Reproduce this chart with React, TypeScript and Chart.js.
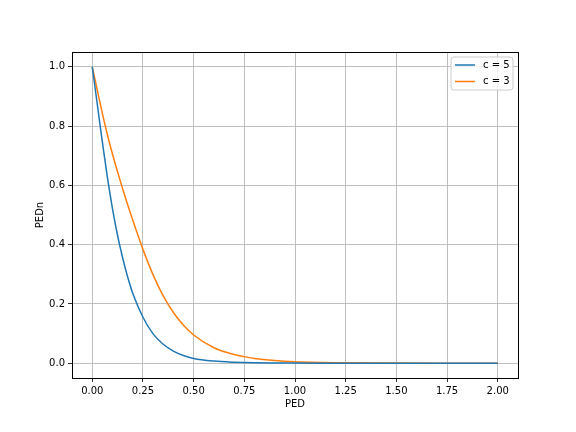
import React, { useEffect, useRef } from "react";
import { Chart, registerables } from "chart.js";

Chart.register(...registerables);

const xValues = [0, 0.025, 0.05, 0.075, 0.1, 0.125, 0.15, 0.175, 0.2, 0.25, 0.3, 0.35, 0.4, 0.45, 0.5, 0.6, 0.7, 0.75, 0.8, 0.9, 1.0, 1.25, 1.5, 1.75, 2.0];
const c5Values = [1, 0.872, 0.745, 0.625, 0.52, 0.43, 0.355, 0.29, 0.235, 0.155, 0.099, 0.064, 0.041, 0.026, 0.016, 0.007, 0.003, 0.002, 0.0013, 0.0006, 0.0003, 0.0001, 0, 0, 0];
const c3Values = [1, 0.92, 0.842, 0.77, 0.705, 0.645, 0.588, 0.534, 0.482, 0.384, 0.298, 0.227, 0.171, 0.128, 0.095, 0.052, 0.029, 0.022, 0.016, 0.009, 0.005, 0.0012, 0.0003, 0.0001, 0];
const seriesLabels = ["c = 5", "c = 3"];
const seriesColors = ["#1f77b4", "#ff7f0e"];
const xTicks = [0, 0.25, 0.5, 0.75, 1.0, 1.25, 1.5, 1.75, 2.0];
const yTicks = [0, 0.2, 0.4, 0.6, 0.8, 1.0];
const xTitle = "PED";
const yTitle = "PEDn";

const FONT = "'DejaVu Sans', sans-serif";

const framePlugin = {
  id: "frameAndLegend",
  afterDatasetsDraw(chart: any) {
    const { ctx, chartArea } = chart;
    ctx.save();
    ctx.strokeStyle = "#000";
    ctx.lineWidth = 1;
    ctx.strokeRect(
      Math.round(chartArea.left) + 0.5,
      Math.round(chartArea.top) + 0.5,
      Math.round(chartArea.right - chartArea.left),
      Math.round(chartArea.bottom - chartArea.top)
    );
    // legend
    const bx = 451, by = 57, bw = 62, bh = 33, r = 3;
    ctx.beginPath();
    ctx.moveTo(bx + r, by);
    ctx.lineTo(bx + bw - r, by);
    ctx.quadraticCurveTo(bx + bw, by, bx + bw, by + r);
    ctx.lineTo(bx + bw, by + bh - r);
    ctx.quadraticCurveTo(bx + bw, by + bh, bx + bw - r, by + bh);
    ctx.lineTo(bx + r, by + bh);
    ctx.quadraticCurveTo(bx, by + bh, bx, by + bh - r);
    ctx.lineTo(bx, by + r);
    ctx.quadraticCurveTo(bx, by, bx + r, by);
    ctx.closePath();
    ctx.fillStyle = "rgba(255,255,255,0.8)";
    ctx.fill();
    ctx.strokeStyle = "#cccccc";
    ctx.lineWidth = 1;
    ctx.stroke();
    ctx.font = `10px ${FONT}`;
    ctx.textBaseline = "middle";
    ctx.textAlign = "left";
    chart.data.datasets.forEach((ds: any, i: number) => {
      const y = 65 + i * 16.5;
      ctx.strokeStyle = ds.borderColor;
      ctx.lineWidth = 1.5;
      ctx.beginPath();
      ctx.moveTo(455, y);
      ctx.lineTo(475, y);
      ctx.stroke();
      ctx.fillStyle = "#000";
      ctx.fillText(ds.label, 483, y);
    });
    ctx.restore();
  },
};

export default function App() {
  const ref = useRef<HTMLCanvasElement | null>(null);
  useEffect(() => {
    if (!ref.current) return;
    const mk = (vals: number[]) => xValues.map((x, i) => ({ x, y: vals[i] }));
    const chart = new Chart(ref.current, {
      type: "line",
      data: {
        datasets: [
          { label: seriesLabels[0], data: mk(c5Values), borderColor: seriesColors[0], borderWidth: 1.5, pointRadius: 0, cubicInterpolationMode: "monotone", fill: false },
          { label: seriesLabels[1], data: mk(c3Values), borderColor: seriesColors[1], borderWidth: 1.5, pointRadius: 0, cubicInterpolationMode: "monotone", fill: false },
        ],
      },
      options: {
        responsive: false,
        animation: false,
        layout: { padding: { left: 0, top: 52, right: 58, bottom: 0 } },
        plugins: { legend: { display: false }, tooltip: { enabled: false } },
        scales: {
          x: {
            type: "linear",
            min: -0.1,
            max: 2.1,
            afterBuildTicks: (s: any) => { s.ticks = xTicks.map((v) => ({ value: v })); },
            afterFit: (s: any) => { s.height = 54; },
            ticks: { callback: (v: any) => Number(v).toFixed(2), color: "#000", font: { family: FONT, size: 10 }, padding: 3, maxRotation: 0, autoSkip: false },
            grid: { color: "#b0b0b0", lineWidth: 0.8, tickColor: "#000", tickLength: 4, tickWidth: 0.8 },
            border: { display: false },
            title: { display: true, text: xTitle, color: "#000", font: { family: FONT, size: 10 }, padding: { top: 0, bottom: 22 } },
          },
          y: {
            type: "linear",
            min: -0.05,
            max: 1.05,
            afterBuildTicks: (s: any) => { s.ticks = yTicks.map((v) => ({ value: v })); },
            afterFit: (s: any) => { s.width = 72; },
            ticks: { callback: (v: any) => Number(v).toFixed(1), color: "#000", font: { family: FONT, size: 10 }, padding: 3, autoSkip: false },
            grid: { color: "#b0b0b0", lineWidth: 0.8, tickColor: "#000", tickLength: 4, tickWidth: 0.8 },
            border: { display: false },
            title: { display: true, text: yTitle, color: "#000", font: { family: FONT, size: 10 }, padding: { top: 34, bottom: 0 } },
          },
        },
      },
      plugins: [framePlugin],
    } as any);
    return () => chart.destroy();
  }, []);
  return (
    <div style={{ position: "absolute", left: 0, top: 0, width: 576, height: 432, background: "#fff" }}>
      <canvas ref={ref} width={576} height={432} style={{ width: 576, height: 432, display: "block" }} />
    </div>
  );
}
